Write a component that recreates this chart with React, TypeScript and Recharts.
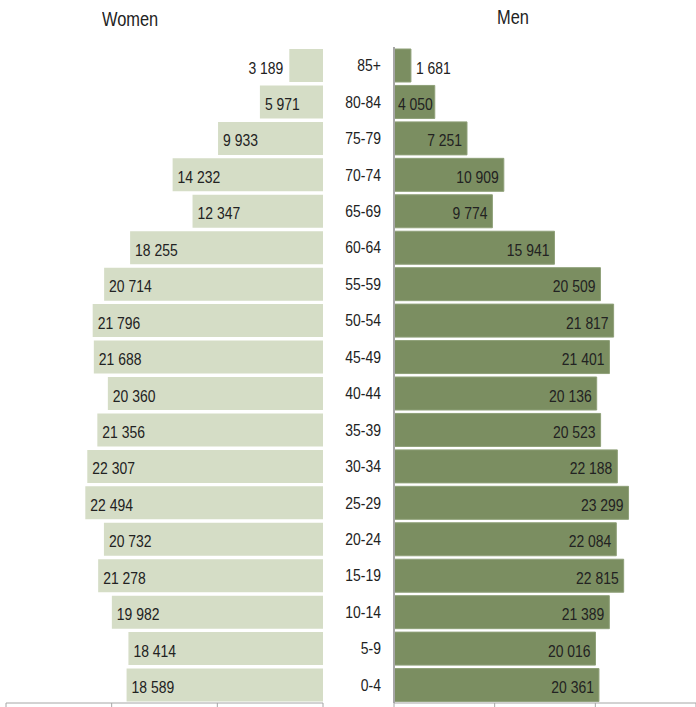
import { Bar, BarChart, LabelList, XAxis, YAxis } from "recharts";

const ageGroups = [
  "85+", "80-84", "75-79", "70-74", "65-69", "60-64", "55-59", "50-54", "45-49",
  "40-44", "35-39", "30-34", "25-29", "20-24", "15-19", "10-14", "5-9", "0-4",
];
const women = [
  3189, 5971, 9933, 14232, 12347, 18255, 20714, 21796, 21688,
  20360, 21356, 22307, 22494, 20732, 21278, 19982, 18414, 18589,
];
const men = [
  1681, 4050, 7251, 10909, 9774, 15941, 20509, 21817, 21401,
  20136, 20523, 22188, 23299, 22084, 22815, 21389, 20016, 20361,
];
const xTicks = [0, 10000, 20000, 30000];

// no narrow font installed, so Arial-metric text is squeezed horizontally
const FONT = '"Liberation Sans", Arial, sans-serif';
const SQUEEZE = 0.82;
const womenColor = "#d5ddc6";
const menColor = "#7b8e61";
const axisColor = "#a6a6a6";

const rows = ageGroups.map((age, i) => ({ age, women: women[i], men: men[i] }));

const fmt = (v: number) => v.toLocaleString("fr-FR").replace(/[\u202f\u00a0]/g, " ");

function textWidth(s: string) {
  return s.length * 17 * 0.5 * SQUEEZE;
}

function NarrowText({ x, y, anchor, children, size = 17 }: any) {
  return (
    <text
      transform={`translate(${x},${y}) scale(${SQUEEZE},1)`}
      x={0}
      y={0}
      textAnchor={anchor}
      dominantBaseline="central"
      fontFamily={FONT}
      fontSize={size}
      fill="#222"
    >
      {children}
    </text>
  );
}

function WomenLabel(props: any) {
  const { x, y, width, height, value } = props;
  const s = fmt(value);
  const w = textWidth(s);
  const barLeft = Math.min(x, x + width);
  const barW = Math.abs(width);
  const inside = barW > w + 10;
  return (
    <NarrowText x={inside ? barLeft + 5 : barLeft - 6} y={y + height / 2 + 2} anchor={inside ? "start" : "end"}>
      {s}
    </NarrowText>
  );
}

function MenLabel(props: any) {
  const { x, y, width, height, value } = props;
  const s = fmt(value);
  const w = textWidth(s);
  if (width < w + 4) {
    return (
      <NarrowText x={x + width + 5} y={y + height / 2 + 2} anchor="start">
        {s}
      </NarrowText>
    );
  }
  if (width < w + 14) {
    return (
      <NarrowText x={x + 4} y={y + height / 2 + 2} anchor="start">
        {s}
      </NarrowText>
    );
  }
  return (
    <NarrowText x={x + width - 5} y={y + height / 2 + 2} anchor="end">
      {s}
    </NarrowText>
  );
}

function AgeTick(props: any) {
  const { x, y, payload } = props;
  return (
    <NarrowText x={x} y={y} anchor="end">
      {payload.value}
    </NarrowText>
  );
}

const noTick = () => <g />;

export default function App() {
  const title = { position: "absolute" as const, fontSize: 20, color: "#222", transform: `scaleX(${SQUEEZE})`, transformOrigin: "left top" };
  return (
    <div style={{ position: "absolute", left: 0, top: 0, width: 696, height: 707, background: "#fff", fontFamily: FONT }}>
      <div style={{ ...title, left: 102, top: 8 }}>Women</div>
      <div style={{ ...title, left: 497, top: 6 }}>Men</div>

      <div style={{ position: "absolute", left: 0, top: 0 }}>
        <BarChart
          width={330}
          height={707}
          data={rows}
          layout="vertical"
          margin={{ top: 47, right: 7, bottom: 0, left: 6 }}
          barSize={33}
        >
          <XAxis
            type="number"
            domain={[0, 30000]}
            ticks={xTicks}
            reversed
            height={4}
            tickSize={5}
            tick={noTick}
            stroke={axisColor}
            interval={0}
          />
          <YAxis type="category" dataKey="age" hide />
          <Bar dataKey="women" fill={womenColor} isAnimationActive={false}>
            <LabelList dataKey="women" content={WomenLabel} />
          </Bar>
        </BarChart>
      </div>

      <div style={{ position: "absolute", left: 330, top: 0 }}>
        <BarChart
          width={366}
          height={707}
          data={rows}
          layout="vertical"
          margin={{ top: 47, right: 0, bottom: 0, left: 0 }}
          barSize={33}
        >
          <XAxis
            type="number"
            domain={[0, 30000]}
            ticks={xTicks}
            height={4}
            tickSize={5}
            tick={noTick}
            stroke={axisColor}
            interval={0}
          />
          <YAxis
            type="category"
            dataKey="age"
            width={64}
            tickLine={false}
            tickMargin={7}
            stroke={axisColor}
            strokeWidth={2}
            tick={AgeTick}
          />
          <Bar dataKey="men" fill={menColor} stroke="#8fa079" isAnimationActive={false}>
            <LabelList dataKey="men" content={MenLabel} />
          </Bar>
        </BarChart>
      </div>
    </div>
  );
}
